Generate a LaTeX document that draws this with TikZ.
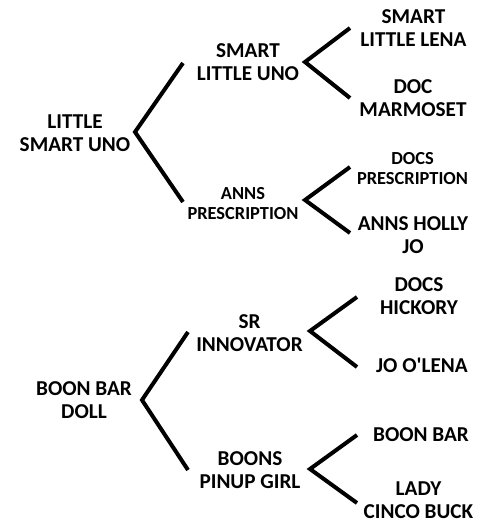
\documentclass[tikz,border=0pt]{standalone}
\usepackage{fontspec}
\setmainfont{Carlito}

\tikzset{
  horse/.style={font=\bfseries\fontsize{15.9pt}{17.3pt}\selectfont, align=center, inner sep=0pt},
  smallhorse/.style={font=\bfseries\fontsize{13.8pt}{15pt}\selectfont, align=center, inner sep=0pt},
  fork/.style={-, line width=3pt, line join=miter},
}

\begin{document}
\begin{tikzpicture}[x=0.75pt, y=-0.75pt]
    \useasboundingbox (0,0) rectangle (477,525);

    % first pedigree
    \node[horse] (lsu) at (75,133) {LITTLE\\SMART UNO};
    \node[horse] (slu) at (248,62) {SMART\\LITTLE UNO};
    \node[smallhorse] (ap) at (243,203.5) {ANNS\\PRESCRIPTION};
    \node[horse] (sll) at (413.5,28.5) {SMART\\LITTLE LENA};
    \node[horse] (dm) at (413,98.5) {DOC\\MARMOSET};
    \node[smallhorse] (dp) at (412.5,168.5) {DOCS\\PRESCRIPTION};
    \node[horse] (ahj) at (413,235.5) {ANNS HOLLY\\JO};

    % second pedigree
    \node[horse] (bbd) at (84,400.5) {BOON BAR\\DOLL};
    \node[horse] (si) at (249.5,333) {SR\\INNOVATOR};
    \node[horse] (bpg) at (250,470.5) {BOONS\\PINUP GIRL};
    \node[horse] (dh) at (419,296.5) {DOCS\\HICKORY};
    \node[horse] (jol) at (422,365) {JO O\textquotesingle LENA};
    \node[horse] (bb) at (421,435) {BOON BAR};
    \node[horse] (lcb) at (418.5,500) {LADY\\CINCO BUCK};

    % forks
    \coordinate (f1) at (135,132);  \coordinate (f1t) at (183,63);  \coordinate (f1b) at (183,202);
    \coordinate (f2) at (305,62);   \coordinate (f2t) at (350,28);  \coordinate (f2b) at (350,98);
    \coordinate (f3) at (305,200);  \coordinate (f3t) at (350,167); \coordinate (f3b) at (350,233);
    \coordinate (f4) at (142,400);  \coordinate (f4t) at (188,332); \coordinate (f4b) at (188,470);
    \coordinate (f5) at (310,331);  \coordinate (f5t) at (357,297); \coordinate (f5b) at (357,367);
    \coordinate (f6) at (310,469);  \coordinate (f6t) at (357,435); \coordinate (f6b) at (357,503);

    \foreach \f in {f1,f2,f3,f4,f5,f6}
        \draw[fork] (\f t) -- (\f) -- (\f b);
\end{tikzpicture}
\end{document}
